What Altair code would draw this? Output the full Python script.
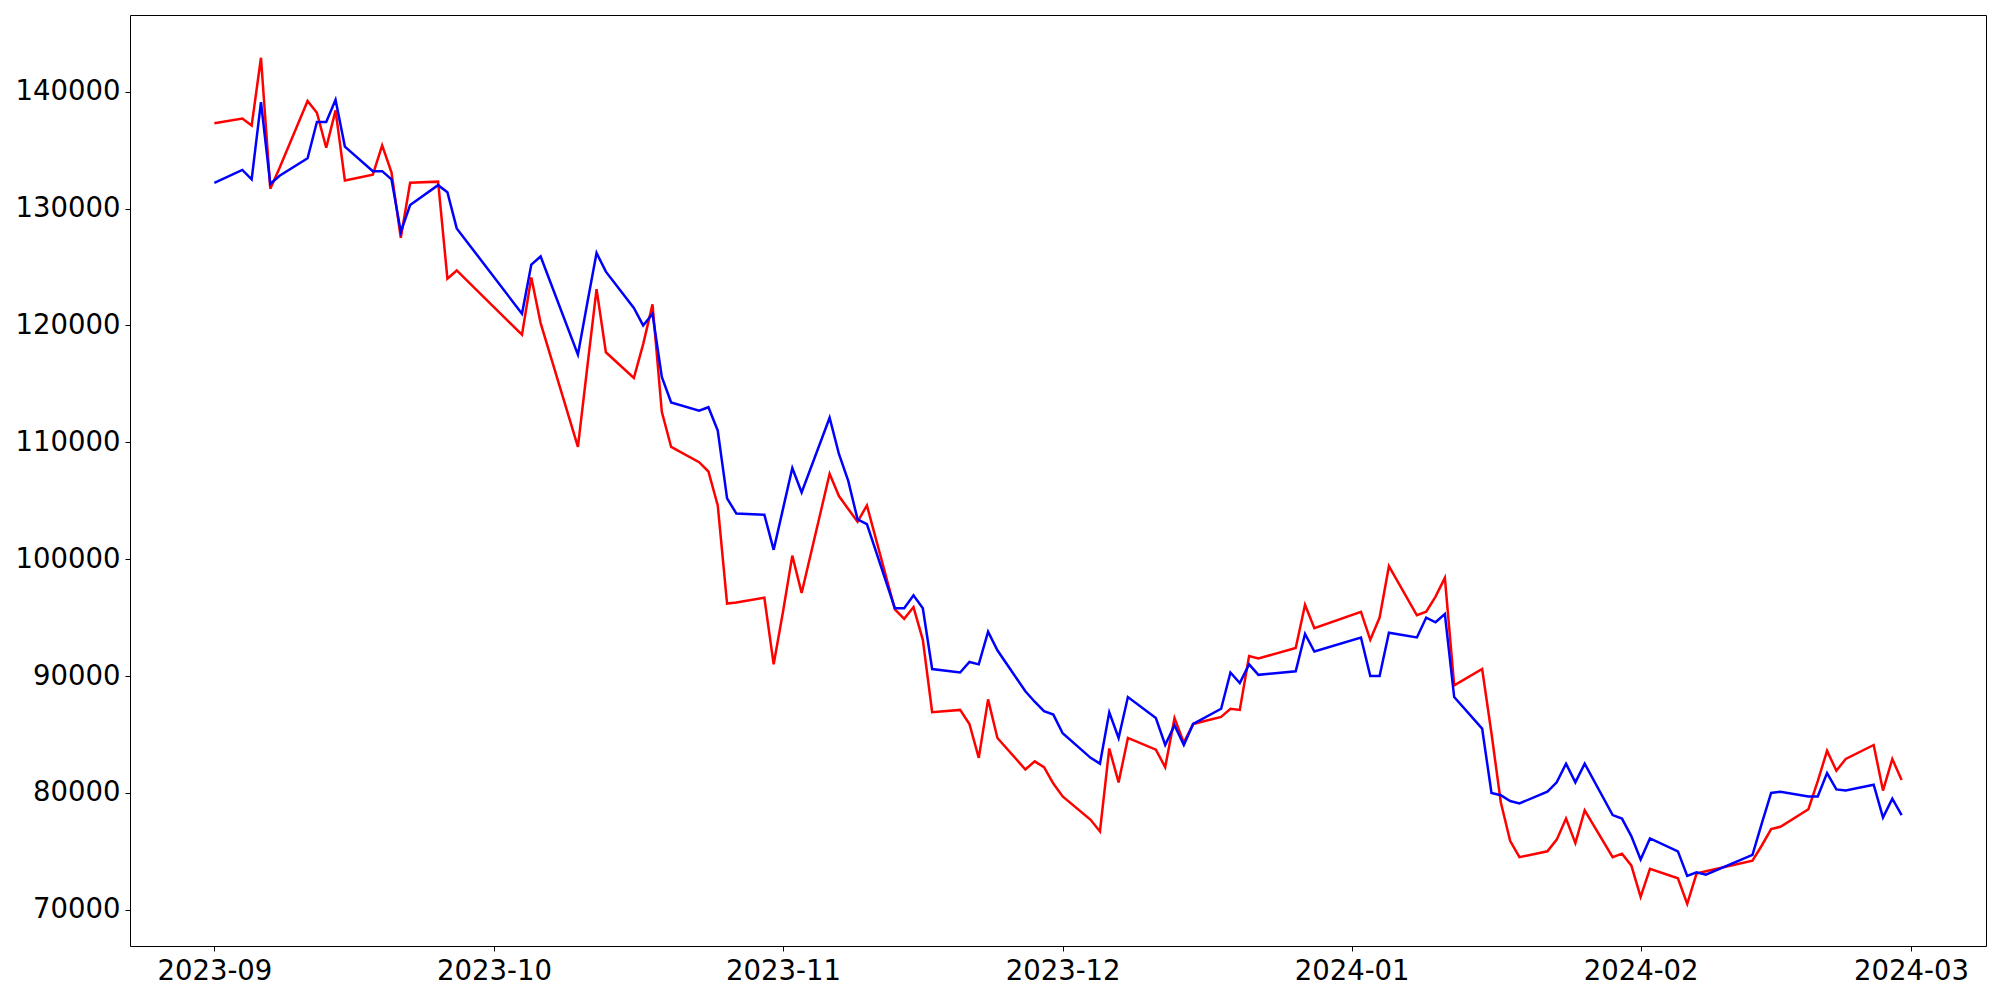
import altair as alt
import pandas as pd

dates = [
    "2023-09-01", "2023-09-04", "2023-09-05", "2023-09-06", "2023-09-07", "2023-09-08",
    "2023-09-11", "2023-09-12", "2023-09-13", "2023-09-14", "2023-09-15",
    "2023-09-18", "2023-09-19", "2023-09-20", "2023-09-21", "2023-09-22",
    "2023-09-25", "2023-09-26", "2023-09-27",
    "2023-10-04", "2023-10-05", "2023-10-06",
    "2023-10-10", "2023-10-11", "2023-10-12", "2023-10-13",
    "2023-10-16", "2023-10-17", "2023-10-18", "2023-10-19", "2023-10-20",
    "2023-10-23", "2023-10-24", "2023-10-25", "2023-10-26", "2023-10-27",
    "2023-10-30", "2023-10-31",
    "2023-11-01", "2023-11-02", "2023-11-03",
    "2023-11-06", "2023-11-07", "2023-11-08", "2023-11-09", "2023-11-10",
    "2023-11-13", "2023-11-14", "2023-11-15", "2023-11-16", "2023-11-17",
    "2023-11-20", "2023-11-21", "2023-11-22", "2023-11-23", "2023-11-24",
    "2023-11-27", "2023-11-28", "2023-11-29", "2023-11-30",
    "2023-12-01",
    "2023-12-04", "2023-12-05", "2023-12-06", "2023-12-07", "2023-12-08",
    "2023-12-11", "2023-12-12", "2023-12-13", "2023-12-14", "2023-12-15",
    "2023-12-18", "2023-12-19", "2023-12-20", "2023-12-21", "2023-12-22",
    "2023-12-26", "2023-12-27", "2023-12-28",
    "2024-01-02", "2024-01-03", "2024-01-04", "2024-01-05",
    "2024-01-08", "2024-01-09", "2024-01-10", "2024-01-11", "2024-01-12",
    "2024-01-15", "2024-01-16", "2024-01-17", "2024-01-18", "2024-01-19",
    "2024-01-22", "2024-01-23", "2024-01-24", "2024-01-25", "2024-01-26",
    "2024-01-29", "2024-01-30", "2024-01-31",
    "2024-02-01", "2024-02-02",
    "2024-02-05", "2024-02-06", "2024-02-07", "2024-02-08",
    "2024-02-13", "2024-02-14", "2024-02-15", "2024-02-16",
    "2024-02-19", "2024-02-20", "2024-02-21", "2024-02-22", "2024-02-23",
    "2024-02-26", "2024-02-27", "2024-02-28", "2024-02-29",
]

red_values = [
    137300, 137700, 137100, 142900, 131700, 133500,
    139200, 138200, 135200, 138400, 132400,
    132900, 135400, 133100, 127500, 132200,
    132300, 124000, 124700,
    119200, 124100, 120200,
    109600, 116400, 123100, 117700,
    115500, 118400, 121800, 112600, 109600,
    108300, 107500, 104600, 96200, 96300,
    96700, 91000,
    95500, 100300, 97100,
    107300, 105400, 104300, 103200, 104600,
    95700, 94900, 95900, 93100, 86900,
    87100, 85900, 83000, 88000, 84700,
    82000, 82700, 82200, 80800,
    79700,
    77700, 76700, 83800, 80900, 84700,
    83700, 82200, 86400, 84300, 85900,
    86500, 87200, 87100, 91700, 91500,
    92400, 96100, 94100,
    95500, 93100, 95000, 99400,
    95200, 95500, 96800, 98400, 89200,
    90600, 85100, 79200, 75900, 74500,
    75000, 76000, 77800, 75700, 78500,
    74500, 74800, 73800,
    71100, 73500,
    72700, 70500, 73100, 73300,
    74200, 75500, 76900, 77100,
    78600, 81000, 83600, 81900, 82900,
    84100, 80200, 82900, 81100,
]

blue_values = [
    132200, 133300, 132500, 139100, 132100, 132800,
    134300, 137400, 137400, 139300, 135300,
    133200, 133200, 132500, 128000, 130300,
    132000, 131400, 128300,
    121000, 125200, 125900,
    117500, 121900, 126200, 124600,
    121500, 120000, 121000, 115600, 113400,
    112700, 113000, 111000, 105200, 103900,
    103800, 100800,
    104300, 107800, 105700,
    112100, 109000, 106700, 103400, 103000,
    95800, 95800, 96900, 95800, 90600,
    90300, 91200, 91000, 93800, 92200,
    88700, 87800, 87000, 86700,
    85100,
    83000, 82500, 86900, 84700, 88200,
    86400, 84100, 85800, 84100, 85900,
    87200, 90300, 89400, 91000, 90100,
    90400, 93600, 92100,
    93300, 90000, 90000, 93700,
    93300, 95000, 94600, 95300, 88200,
    85500, 80000, 79800, 79300, 79100,
    80100, 80900, 82500, 80900, 82500,
    78100, 77800, 76300,
    74300, 76100,
    75000, 72900, 73200, 73000,
    74700, 77400, 80000, 80100,
    79700, 79700, 81700, 80300, 80200,
    80700, 77900, 79500, 78100,
]

y_ticks = [70000, 80000, 90000, 100000, 110000, 120000, 130000, 140000]
x_tick_months = [(2023, 9), (2023, 10), (2023, 11), (2023, 12), (2024, 1), (2024, 2), (2024, 3)]

df = pd.DataFrame({"date": dates, "red": red_values, "blue": blue_values})

x_scale = alt.Scale(
    type="utc",
    nice=False,
    domain=[
        alt.DateTime(year=2023, month=8, date=22, hours=22, minutes=48, utc=True),
        alt.DateTime(year=2024, month=3, date=9, hours=1, minutes=12, utc=True),
    ],
)
x_axis = alt.Axis(
    title=None,
    values=[alt.DateTime(year=y, month=m, date=1, utc=True) for y, m in x_tick_months],
    labelExpr="utcFormat(datum.value, '%Y-%m')",
    labelFlush=False,
    labelOverlap=False,
    labelPadding=6,
)
y_scale = alt.Scale(domain=[66900, 146560], nice=False, zero=False)
y_axis = alt.Axis(title=None, values=y_ticks, format="d", labelFlush=False,
                  labelOverlap=False, labelPadding=5)

base = alt.Chart(df)
red_line = base.mark_line(color="#ff0000", strokeWidth=2.5).encode(
    x=alt.X("date:T", scale=x_scale, axis=x_axis),
    y=alt.Y("red:Q", scale=y_scale, axis=y_axis),
)
blue_line = base.mark_line(color="#0000ff", strokeWidth=2.5).encode(
    x=alt.X("date:T", scale=x_scale, axis=x_axis),
    y=alt.Y("blue:Q", scale=y_scale, axis=y_axis),
)

chart = (
    alt.layer(red_line, blue_line)
    .properties(
        width=1856,
        height=931,
        padding={"left": 122, "top": 7, "right": 4, "bottom": 46},
        autosize=alt.AutoSizeParams(type="none"),
        background="white",
    )
    .configure_axis(
        labelFont="DejaVu Sans",
        labelFontSize=27.5,
        labelColor="black",
        tickColor="black",
        tickSize=5,
        tickWidth=1,
        domain=False,
        grid=False,
    )
    .configure_view(stroke="black", strokeWidth=1)
)

chart.save("out.html", embed_options={"renderer": "svg", "actions": False})
